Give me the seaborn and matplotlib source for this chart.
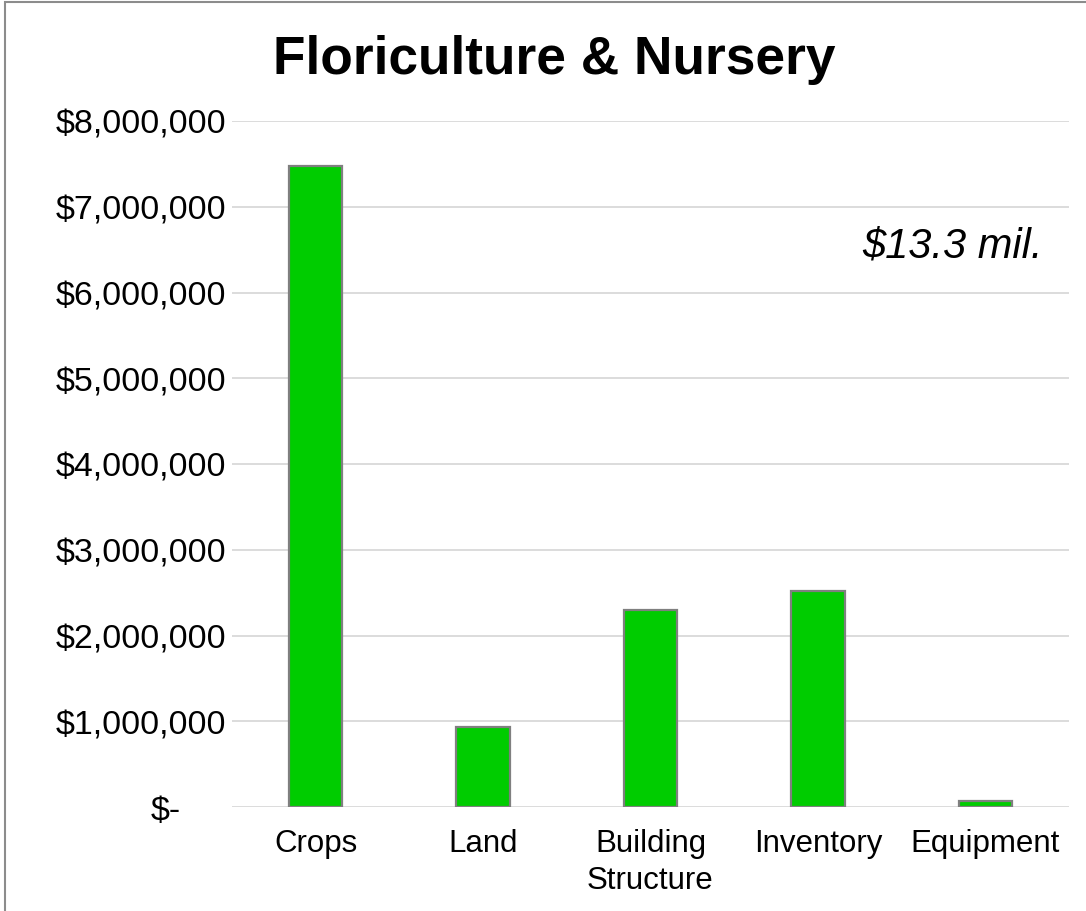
import matplotlib
matplotlib.use("Agg")
import matplotlib.pyplot as plt
import matplotlib.transforms as mtransforms
from matplotlib.patches import Rectangle
import seaborn as sns
import pandas as pd

# ---- data ----
categories = ["Crops", "Land", "Building\nStructure", "Inventory", "Equipment"]
values = [7470000, 930000, 2300000, 2520000, 70000]
y_ticks = [0, 1000000, 2000000, 3000000, 4000000, 5000000, 6000000, 7000000, 8000000]
y_tick_labels = ["$-", "$1,000,000", "$2,000,000", "$3,000,000", "$4,000,000",
                 "$5,000,000", "$6,000,000", "$7,000,000", "$8,000,000"]
title = "Floriculture & Nursery"
total_label = "$13.3 mil."

sns.set_theme(style="white")
plt.rcParams["font.family"] = ["Liberation Sans", "DejaVu Sans"]

W, H = 1086, 912
fig = plt.figure(figsize=(W / 100, H / 100), dpi=100)
ax = fig.add_axes([232 / W, 1 - 808 / H, (1069 - 232) / W, (808 - 122) / H])

df = pd.DataFrame({"category": categories, "value": values})
sns.barplot(data=df, x="category", y="value", color="#00cc00", saturation=1,
            width=0.32, edgecolor="#7f7f7f", linewidth=1.6, ax=ax, zorder=3)

ax.set_ylim(0, 8000000)
ax.set_xlim(-0.5, len(categories) - 0.5)
ax.set_yticks(y_ticks)
ax.set_yticklabels(y_tick_labels)
ax.set_xlabel("")
ax.set_ylabel("")
ax.grid(axis="y", color="#d9d9d9", linewidth=1.3, zorder=0)
ax.grid(axis="x", visible=False)
for s in ax.spines.values():
    s.set_visible(False)
ax.tick_params(axis="both", length=0, colors="black")
ax.tick_params(axis="y", pad=4, labelsize=24.5)
ax.tick_params(axis="x", pad=15, labelsize=22.5)
for lab in ax.get_xticklabels():
    lab.set_linespacing(1.32)

# Excel accounting style: "$-" sits left of the other labels
zero_lab = ax.get_yticklabels()[0]
zero_lab.set_transform(zero_lab.get_transform() +
                       mtransforms.ScaledTranslation(-46 / 100, 0, fig.dpi_scale_trans))

fig.text(554 / W, 1 - 74 / H, title, ha="center", va="baseline",
         fontsize=38.3, fontweight="bold", color="black")
fig.text(1043 / W, 1 - 258 / H, total_label, ha="right", va="baseline",
         fontsize=30, fontstyle="italic", color="black")

# chart border (cropped at right/bottom)
fig.patches.append(Rectangle((5 / W, -0.1), 1.2, 1 - 3 / H + 0.1,
                             transform=fig.transFigure, fill=False,
                             edgecolor="#8c8c8c", linewidth=1.5))

fig.savefig("out.png", dpi=100)
